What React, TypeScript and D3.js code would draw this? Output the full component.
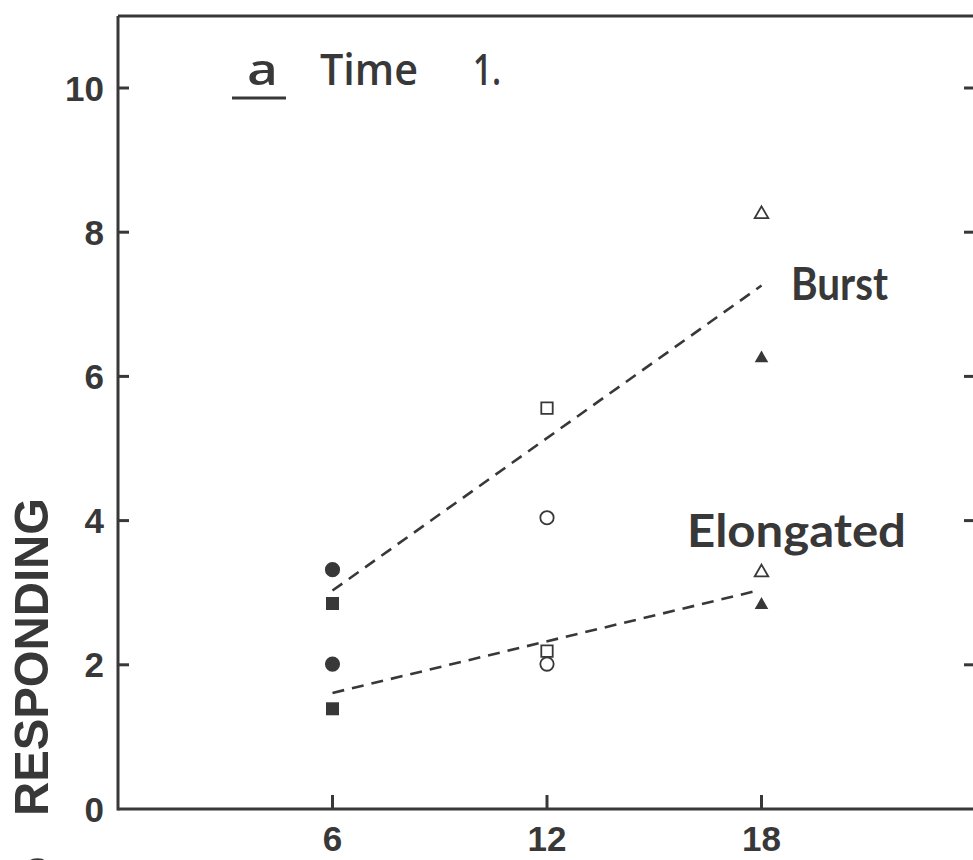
import React from "react";
import * as d3 from "d3";

// ---- data ----
const xTicks = [6, 12, 18];
const yTicks = [0, 2, 4, 6, 8, 10];
const rightTicks = [2, 4, 6, 8, 10];

const filledCircles = [{ x: 6, y: 3.32 }, { x: 6, y: 2.01 }];
const filledSquares = [{ x: 6, y: 2.85 }, { x: 6, y: 1.39 }];
const openSquares = [{ x: 12, y: 5.56 }, { x: 12, y: 2.19 }];
const openCircles = [{ x: 12, y: 4.04 }, { x: 12, y: 2.01 }];
const openTriangles = [{ x: 18, y: 8.25 }, { x: 18, y: 3.28 }];
const filledTriangles = [{ x: 18, y: 6.25 }, { x: 18, y: 2.83 }];

const burstFit = [{ x: 6, y: 3.03 }, { x: 18, y: 7.26 }];
const elongatedFit = [{ x: 6, y: 1.61 }, { x: 17.9, y: 3.03 }];

const INK = "#383838";

export default function App() {
  const x = d3.scaleLinear().domain([0, 24]).range([118, 976]);
  const y = d3.scaleLinear().domain([0, 11]).range([809, 15.9]);
  const line = d3
    .line<{ x: number; y: number }>()
    .x((d) => x(d.x))
    .y((d) => y(d.y));

  const sym = (type: d3.SymbolType, size: number) => d3.symbol().type(type).size(size)() as string;
  const circlePath = sym(d3.symbolCircle, 180);
  const squarePath = sym(d3.symbolSquare, 169);
  const openSquarePath = sym(d3.symbolSquare, 130);
  const openCirclePath = sym(d3.symbolCircle, 140);
  const triPath = sym(d3.symbolTriangle, 80);

  const tickFont = "'Liberation Sans', Arial, sans-serif";
  const labelFont = "Lato, 'Open Sans', sans-serif";
  const titleFont = "'Open Sans', Lato, sans-serif";

  const x0 = x(0);
  const x1 = x(24);
  const yb = y(0);
  const yt = y(11);

  const marks = (
    pts: { x: number; y: number }[],
    d: string,
    filled: boolean,
    key: string
  ) =>
    pts.map((p, i) => (
      <path
        key={key + i}
        d={d}
        transform={`translate(${x(p.x)},${y(p.y)})`}
        fill={filled ? INK : "#fff"}
        stroke={INK}
        strokeWidth={filled ? 0 : 1.8}
      />
    ));

  return (
    <svg
      width={973}
      height={860}
      style={{ position: "absolute", left: 0, top: 0, background: "#fff" }}
    >
      <rect x={0} y={0} width={973} height={860} fill="#fff" />
      {/* frame */}
      <g stroke={INK} strokeWidth={3} fill="none">
        <line x1={x0} y1={yt} x2={x0} y2={yb + 1.5} />
        <line x1={x0} y1={yb} x2={x1} y2={yb} />
        <line x1={x0} y1={yt} x2={x1} y2={yt} />
        <line x1={x1} y1={yt} x2={x1} y2={yb} />
      </g>
      {/* ticks */}
      <g stroke={INK} strokeWidth={3}>
        {yTicks.filter((t) => t > 0).map((t) => (
          <line key={"yt" + t} x1={x0} x2={x0 + 11} y1={y(t)} y2={y(t)} />
        ))}
        {rightTicks.map((t) => (
          <line key={"rt" + t} x1={x1 - 12} x2={x1} y1={y(t)} y2={y(t)} />
        ))}
        {xTicks.map((t) => (
          <line key={"xt" + t} x1={x(t)} x2={x(t)} y1={yb} y2={yb - 14} />
        ))}
      </g>
      {/* tick labels */}
      <g fill={INK} fontFamily={tickFont} fontWeight="bold" fontSize={35}>
        {yTicks.map((t) => (
          <text key={"yl" + t} x={104} y={y(t)} dy="0.36em" textAnchor="end">
            {t}
          </text>
        ))}
        {xTicks.map((t) => (
          <text key={"xl" + t} x={x(t)} y={851} textAnchor="middle">
            {t}
          </text>
        ))}
      </g>
      {/* axis title */}
      <g fill={INK} fontFamily={tickFont} fontWeight="bold" fontSize={49}>
        <text transform="translate(48,816) rotate(-90)" textLength={318} lengthAdjust="spacingAndGlyphs">
          RESPONDING
        </text>
        <text transform="translate(48,857) rotate(-90)" textAnchor="end">
          %
        </text>
      </g>
      {/* fit lines */}
      <g fill="none" stroke={INK} strokeWidth={2.6} strokeDasharray="12 8">
        <path d={line(burstFit) as string} />
        <path d={line(elongatedFit) as string} />
      </g>
      {/* markers */}
      {marks(filledCircles, circlePath, true, "fc")}
      {marks(filledSquares, squarePath, true, "fs")}
      {marks(openSquares, openSquarePath, false, "os")}
      {marks(openCircles, openCirclePath, false, "oc")}
      {marks(openTriangles, triPath, false, "ot")}
      {marks(filledTriangles, triPath, true, "ft")}
      {/* labels */}
      <g fill={INK} fontFamily={titleFont} fontWeight={600}>
        <text x={247} y={85} fontSize={44} textLength={31} lengthAdjust="spacingAndGlyphs">a</text>
        <text x={320} y={85} fontSize={44} textLength={98} lengthAdjust="spacingAndGlyphs">Time</text>
        <text x={473} y={85} fontSize={44} textLength={28} lengthAdjust="spacingAndGlyphs">1.</text>
      </g>
      <g fill={INK} fontFamily={labelFont} fontWeight="bold">
        <text x={791} y={300} fontSize={46} textLength={97} lengthAdjust="spacingAndGlyphs">Burst</text>
        <text x={687} y={547} fontSize={45} textLength={219} lengthAdjust="spacingAndGlyphs">Elongated</text>
      </g>
      <line x1={232} x2={286} y1={98} y2={98} stroke={INK} strokeWidth={3} />
    </svg>
  );
}
